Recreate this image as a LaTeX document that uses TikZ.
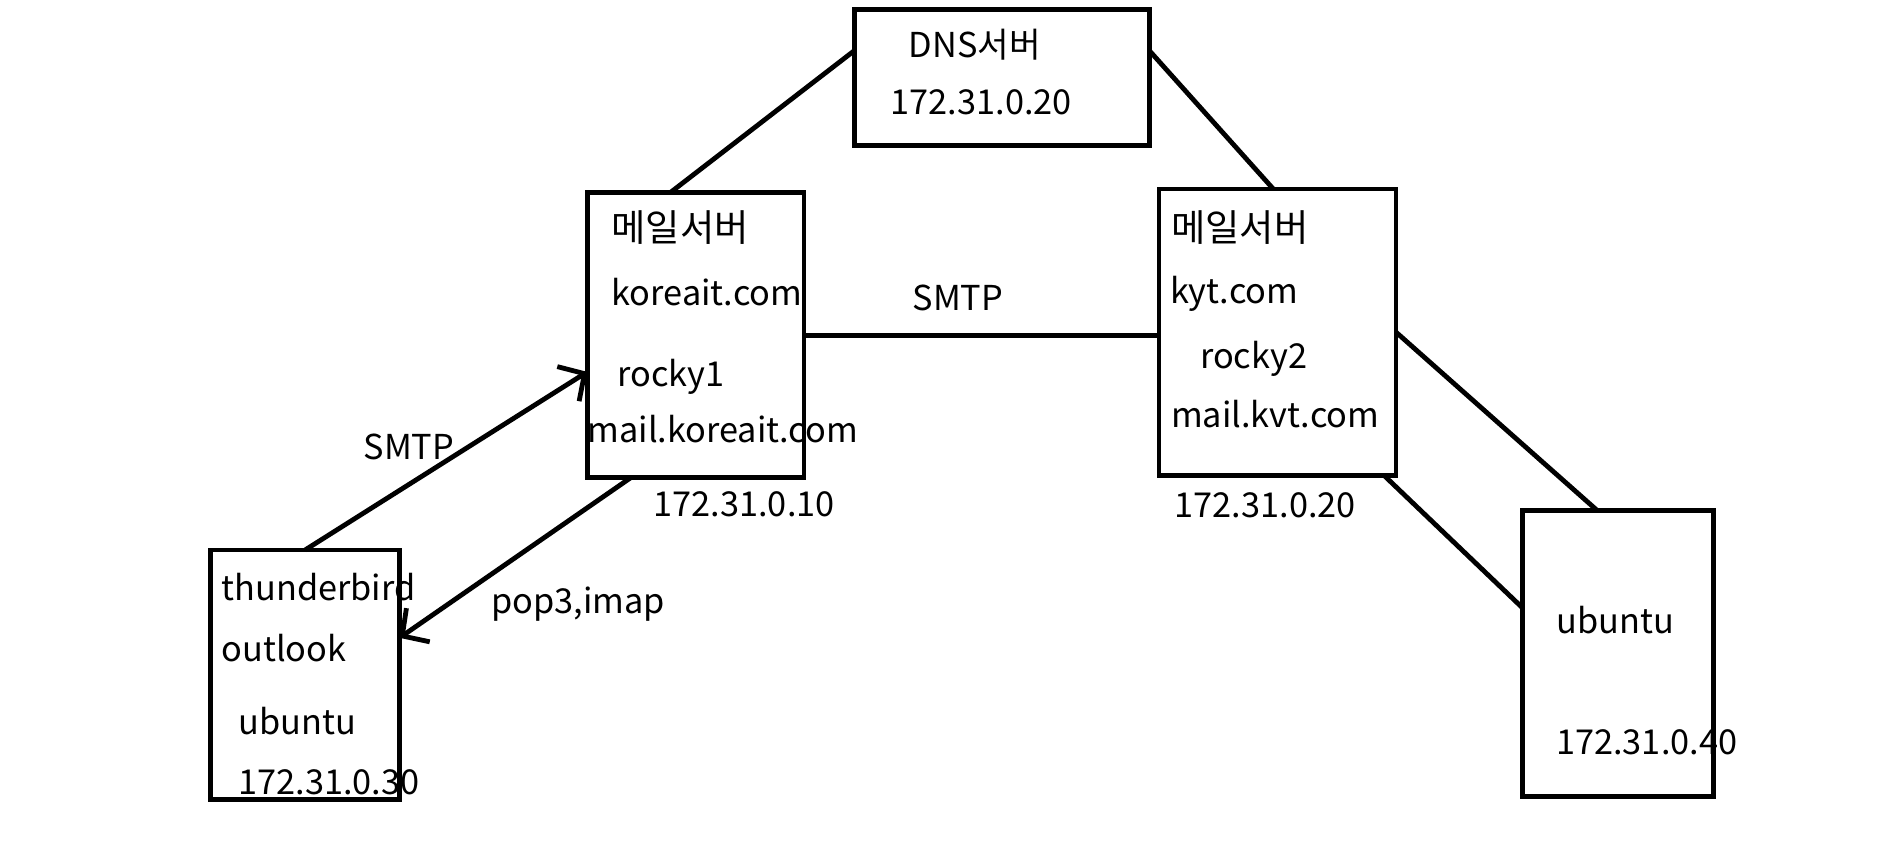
\documentclass[tikz,border=0pt]{standalone}
\usepackage{fontspec}
\setmainfont{Noto Sans CJK KR}
\usetikzlibrary{arrows.meta}
\begin{document}
\begin{tikzpicture}[x=1pt,y=-1pt,
  box/.style={draw,line width=4pt,rectangle,inner sep=0pt,outer sep=0pt},
  conn/.style={line width=4pt},
  arr/.style={line width=4pt,-{Straight Barb[length=16pt,width=34pt,line width=4pt]}},
  lbl/.style={anchor=base west,inner sep=0pt,font=\fontsize{28.5}{34}\selectfont},
  klbl/.style={anchor=base west,inner sep=0pt,font=\fontsize{31}{36}\selectfont},
  clbl/.style={anchor=base,inner sep=0pt,font=\fontsize{28.5}{34}\selectfont}]
\useasboundingbox[fill=white] (0,0) rectangle (1568,705);
% boxes
\node[box,minimum width=245pt,minimum height=113pt] (dns) at (832.5,64.5) {};
\node[box,minimum width=180pt,minimum height=237pt] (mail1) at (578,278.5) {};
\node[box,minimum width=197pt,minimum height=238pt] (mail2) at (1061.5,276) {};
\node[box,minimum width=157pt,minimum height=207pt] (c1) at (253.5,560.5) {};
\node[box,minimum width=159pt,minimum height=238pt] (c2) at (1344.5,543) {};
% texts
\node[lbl] (t1) at (755,48) {DNS서버};
\node[lbl] (t2) at (740,95) {172.31.0.20};
\node[klbl] (t3) at (508,201) {메일서버};
\node[lbl] (t4) at (508,254) {koreait.com};
\node[lbl] (t5) at (513,321) {rocky1};
\node[lbl] (t6) at (488,368) {mail.koreait.com};
\node[lbl] (t7) at (543,429) {172.31.0.10};
\node[klbl] (t8) at (973,201) {메일서버};
\node[lbl] (t9) at (972,252) {kyt.com};
\node[lbl] (t10) at (997,306) {rocky2};
\node[lbl] (t11) at (973,355) {mail.kvt.com};
\node[lbl] (t12) at (976,430) {172.31.0.20};
\node[clbl] (t13) at (796,258) {SMTP};
\node[lbl] (t14) at (184,499) {thunderbird};
\node[lbl] (t15) at (184,550) {outlook};
\node[lbl] (t16) at (198,610) {ubuntu};
\node[lbl] (t17) at (198,660) {172.31.0.30};
\node[lbl] (t18) at (302,382) {SMTP};
\node[lbl] (t19) at (408,510) {pop3,imap};
\node[lbl] (t20) at (1293,526) {ubuntu};
\node[lbl] (t21) at (1293,627) {172.31.0.40};
% connectors
\draw[conn] ([yshift=22.5pt]dns.west) -- ([xshift=-21pt]mail1.north);
\draw[conn] ([yshift=22.5pt]dns.east) -- ([xshift=-3.5pt]mail2.north);
\draw[conn] (mail1.east) -- (mail1.east -| mail2.west);
\draw[arr] (c1.north) -- ([yshift=-30.5pt]mail1.west);
\draw[arr] ([xshift=-54pt]mail1.south) -- ([yshift=30.5pt]c1.east);
\draw[conn] (mail2.east) -- ([xshift=-17.5pt]c2.north);
\draw[conn] ([xshift=-10pt]mail2.south east) -- ([yshift=38pt]c2.west);
\end{tikzpicture}
\end{document}
